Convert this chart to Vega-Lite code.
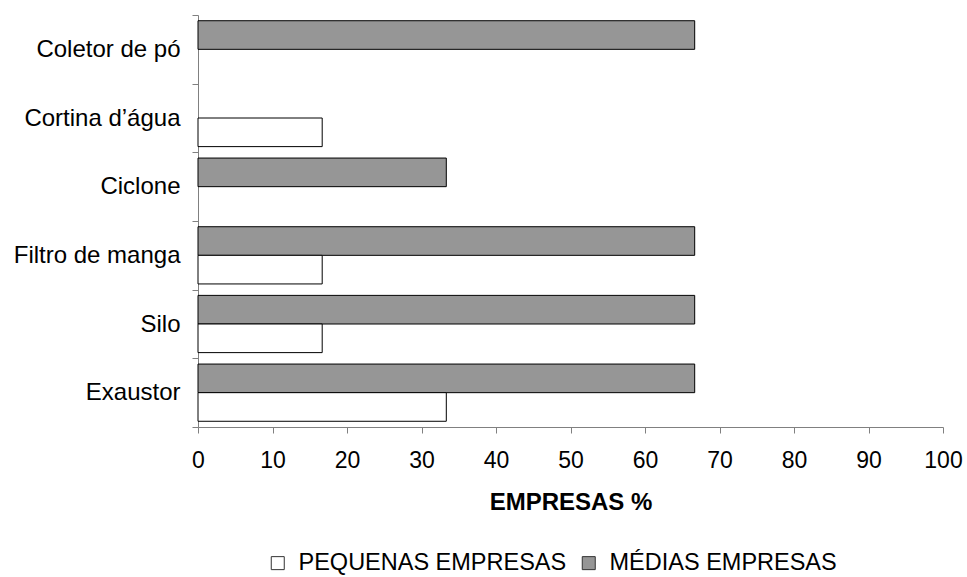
{
  "$schema": "https://vega.github.io/schema/vega-lite/v6.json",
  "width": 745,
  "height": 412,
  "autosize": {"type": "none"},
  "padding": {"left": 198, "top": 15, "right": 24, "bottom": 150},
  "background": "white",
  "config": {
    "font": "Liberation Sans",
    "view": {"stroke": null},
    "axis": {"labelColor": "black", "titleColor": "black", "domainColor": "#808080", "tickColor": "#808080", "grid": false}
  },
  "data": {
    "values": [
      {"cat": "Coletor de pó", "serie": "MÉDIAS EMPRESAS", "valor": 66.67},
      {"cat": "Cortina d’água", "serie": "PEQUENAS EMPRESAS", "valor": 16.67},
      {"cat": "Ciclone", "serie": "MÉDIAS EMPRESAS", "valor": 33.33},
      {"cat": "Filtro de manga", "serie": "MÉDIAS EMPRESAS", "valor": 66.67},
      {"cat": "Filtro de manga", "serie": "PEQUENAS EMPRESAS", "valor": 16.67},
      {"cat": "Silo", "serie": "MÉDIAS EMPRESAS", "valor": 66.67},
      {"cat": "Silo", "serie": "PEQUENAS EMPRESAS", "valor": 16.67},
      {"cat": "Exaustor", "serie": "MÉDIAS EMPRESAS", "valor": 66.67},
      {"cat": "Exaustor", "serie": "PEQUENAS EMPRESAS", "valor": 33.33}
    ]
  },
  "mark": {"type": "bar", "stroke": "black", "strokeWidth": 1},
  "encoding": {
    "y": {
      "field": "cat",
      "type": "nominal",
      "sort": ["Coletor de pó", "Cortina d’água", "Ciclone", "Filtro de manga", "Silo", "Exaustor"],
      "scale": {"paddingInner": 0, "paddingOuter": 0},
      "axis": {"title": null, "labelFontSize": 24, "tickBand": "extent", "tickSize": 6, "labelPadding": 12, "labelLimit": 300}
    },
    "yOffset": {
      "field": "serie",
      "type": "nominal",
      "sort": ["MÉDIAS EMPRESAS", "PEQUENAS EMPRESAS"],
      "scale": {"domain": ["MÉDIAS EMPRESAS", "PEQUENAS EMPRESAS"], "paddingInner": 0, "paddingOuter": 0.2}
    },
    "x": {
      "field": "valor",
      "type": "quantitative",
      "scale": {"domain": [0, 100], "nice": false},
      "axis": {"title": "EMPRESAS %", "values": [0, 10, 20, 30, 40, 50, 60, 70, 80, 90, 100], "tickSize": 6, "labelFontSize": 23, "labelPadding": 16, "titleFontSize": 24, "titleFontWeight": "bold", "titlePadding": 18, "labelFlush": false}
    },
    "color": {
      "field": "serie",
      "type": "nominal",
      "scale": {"domain": ["PEQUENAS EMPRESAS", "MÉDIAS EMPRESAS"], "range": ["#ffffff", "#969696"]},
      "legend": {
        "title": null,
        "orient": "none",
        "direction": "horizontal",
        "legendX": 68,
        "legendY": 536,
        "symbolType": "square",
        "symbolSize": 169,
        "symbolStrokeColor": "#333333",
        "symbolStrokeWidth": 1,
        "labelFontSize": 23.5,
        "labelColor": "black",
        "labelOffset": 9,
        "columnPadding": 10,
        "labelLimit": 400
      }
    }
  }
}
